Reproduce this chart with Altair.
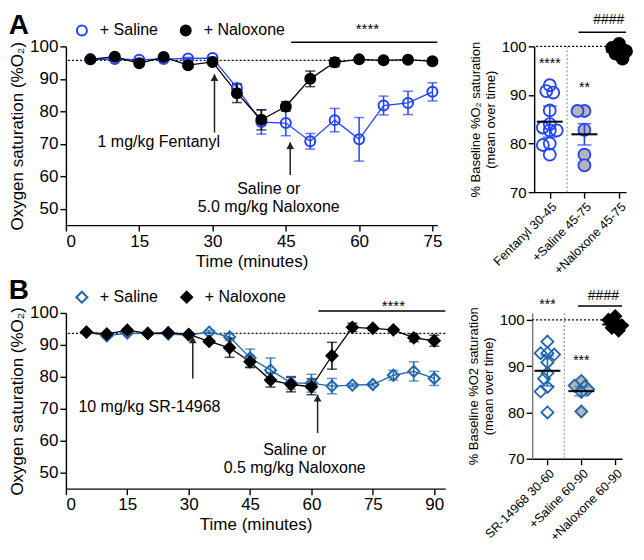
import altair as alt
import pandas as pd

FONT = "Liberation Sans"
BLUE_A = "#2342ff"
BLUE_B = "#1f66ae"
GREY_FILL = "#b5b5b5"
SERIES = ["+ Saline", "+ Naloxone"]

# ---------------- Panel A (time course) ----------------
A_TIME = [5, 10, 15, 20, 25, 30, 35, 40, 45, 50, 55, 60, 65, 70, 75]
A_SAL = [96.0, 96.1, 95.9, 96.1, 96.3, 96.4, 87.2, 76.7, 76.4, 70.8, 77.3, 71.4, 81.8, 82.6, 86.0]
A_SAL_SEM = [0.3, 0.3, 0.3, 0.3, 0.3, 0.3, 1.2, 3.7, 3.9, 2.4, 3.6, 6.7, 2.9, 3.6, 2.8]
A_NAL = [96.0, 96.8, 94.8, 96.7, 94.2, 95.2, 85.6, 77.4, 81.5, 90.0, 95.1, 96.0, 95.7, 95.9, 95.4]
A_NAL_SEM = [0.3, 0.3, 0.3, 0.3, 0.3, 0.3, 2.9, 3.1, 1.5, 2.4, 1.4, 0.3, 0.3, 0.3, 0.3]
A_BASELINE = 95.7
A_XTICKS = [0, 15, 30, 45, 60, 75]
A_ARROWS = [(30.4, 91.4, 73.5), (45.9, 70.5, 60.4)]
A_NOTES = [(19.0, 70.5, "1 mg/kg Fentanyl"), (41.5, 56.2, "Saline or"), (41.5, 50.6, "5.0 mg/kg Naloxone")]
A_SIG = (46.1, 76.0, 101.3, 61.7, 105.4, "****")

# ---------------- Panel B (time course) ----------------
B_TIME = [5, 10, 15, 20, 25, 30, 35, 40, 45, 50, 55, 60, 65, 70, 75, 80, 85, 90]
B_SAL = [94.0, 92.8, 93.7, 93.6, 93.4, 93.1, 94.0, 92.5, 85.9, 82.1, 78.1, 78.0, 77.1, 77.4, 77.6, 80.5, 81.7, 79.5]
B_SAL_SEM = [0.3, 0.3, 0.3, 0.3, 0.3, 0.3, 0.5, 1.0, 2.8, 3.8, 2.0, 2.8, 2.4, 0.5, 0.5, 1.5, 3.0, 2.2]
B_NAL = [94.0, 93.4, 94.6, 93.6, 93.8, 93.3, 91.1, 89.1, 84.7, 79.0, 77.6, 76.9, 86.6, 95.5, 95.2, 94.7, 92.2, 91.3]
B_NAL_SEM = [0.3, 0.3, 0.3, 0.3, 0.3, 0.3, 0.5, 3.0, 1.8, 2.2, 2.3, 2.5, 4.2, 1.3, 0.5, 0.5, 1.2, 1.7]
B_BASELINE = 93.6
B_XTICKS = [0, 15, 30, 45, 60, 75, 90]
B_ARROWS = [(31.0, 92.6, 79.5), (61.5, 74.4, 62.4)]
B_NOTES = [(20.4, 70.6, "10 mg/kg SR-14968"), (55.9, 57.0, "Saline or"), (55.9, 51.5, "0.5 mg/kg Naloxone")]
B_SIG = (61.7, 92.7, 100.6, 80.0, 102.3, "****")

# ---------------- Panel A (summary) ----------------
RA_LABELS = ["Fentanyl 30-45", "+Saline 45-75", "+Naloxone 45-75"]
RA_VALUES = [
    [92.0, 90.8, 90.5, 86.8, 84.0, 83.3, 82.7, 82.7, 80.0, 79.7, 77.7],
    [86.7, 86.7, 82.8, 77.7, 75.5],
    [100.5, 99.7, 99.3, 99.0, 98.5, 97.5],
]
RA_MEANS = [84.5, 81.9, 98.9]
RA_SEMS = [3.2, 2.2, 0.6]
RA_STARS = [(0, 96.4, "****"), (1, 91.4, "**")]
RA_HASH = (0.83, 2.2, 102.9, 1.7, 105.4, "####")

# ---------------- Panel B (summary) ----------------
RB_LABELS = ["SR-14968 30-60", "+Saline 60-90", "+Naloxone 60-90"]
RB_VALUES = [
    [95.3, 92.8, 92.8, 92.5, 90.8, 88.5, 87.3, 85.5, 84.5, 80.0],
    [86.8, 85.8, 85.6, 85.0, 84.4, 80.2],
    [100.8, 100.0, 99.5, 98.8, 98.3, 97.7],
]
RB_MEANS = [89.0, 84.6, 99.0]
RB_SEMS = [3.3, 1.0, 0.6]
RB_STARS = [(0, 103.2, "***"), (1, 91.1, "***")]
RB_HASH = (0.9, 2.2, 103.0, 1.65, 105.2, "####")


def time_panel(time, sal, sal_sem, nal, nal_sem, baseline, sal_color, shape, pt_size,
               xmax, xticks, width, height, arrows, notes, sig, letter, toff):
    rows = []
    for name, vals, sems in ((SERIES[0], sal, sal_sem), (SERIES[1], nal, nal_sem)):
        for t, v, s in zip(time, vals, sems):
            rows.append({"series": name, "t": t, "v": v, "lo": v - s, "hi": v + s})
    df = pd.DataFrame(rows)
    xs = alt.Scale(domain=[0, xmax], nice=False, zero=False)
    ys = alt.Scale(domain=[45, 100], nice=False, zero=False)
    xax = alt.Axis(values=xticks, title="Time (minutes)", labelFontSize=17, titleFontSize=17,
                   tickSize=6, titlePadding=4, labelPadding=2)
    yax = alt.Axis(values=[50, 60, 70, 80, 90, 100], title="Oxygen saturation (%O₂)",
                   labelFontSize=17, titleFontSize=17, tickSize=6, titlePadding=3, labelPadding=2)

    def X(f):
        return alt.X(f, type="quantitative", scale=xs, axis=xax)

    def Y(f):
        return alt.Y(f, type="quantitative", scale=ys, axis=yax)

    # lines / error bars: colour scale with a data-derived (alphabetical) domain
    color = alt.Color("series:N", scale=alt.Scale(range=["black", sal_color]), legend=None)
    # points carry the legend
    leg = alt.Legend(title=None, orient="none", legendX=8, legendY=-24, direction="horizontal",
                     labelFontSize=16, labelFont=FONT, labelColor="black", symbolSize=pt_size,
                     symbolStrokeWidth=2, columnPadding=18, labelOffset=10, padding=0)
    sscale = alt.Scale(domain=SERIES, range=[sal_color, "black"])

    base = alt.Chart(df)
    bl = alt.Chart(pd.DataFrame({"y": [baseline]})).mark_rule(
        strokeDash=[2, 2], color="black", strokeWidth=1.3).encode(y=Y("y"))
    lines = base.mark_line(strokeWidth=1.3).encode(x=X("t"), y=Y("v"), color=color)
    errs = base.mark_errorbar(ticks=True, size=10, thickness=1.5).encode(
        x=X("t"), y=Y("lo"), y2="hi", color=color)
    pts = base.mark_point(size=pt_size, strokeWidth=2, opacity=1).encode(
        x=X("t"), y=Y("v"),
        stroke=alt.Stroke("series:N", scale=sscale, legend=leg),
        fill=alt.Fill("series:N", scale=alt.Scale(domain=SERIES, range=["transparent", "black"]), legend=leg),
        shape=alt.Shape("series:N", scale=alt.Scale(domain=SERIES, range=[shape, shape]), legend=leg),
    )
    adf = pd.DataFrame(arrows, columns=["x", "tip", "tail"])
    arule = alt.Chart(adf).mark_rule(color="#222", strokeWidth=1.5).encode(x=X("x"), y=Y("tip"), y2="tail")
    ahead = alt.Chart(adf).mark_point(shape="triangle-up", filled=True, size=60, color="#222",
                                      opacity=1, yOffset=3.4).encode(x=X("x"), y=Y("tip"))
    ndf = pd.DataFrame(notes, columns=["x", "y", "txt"])
    ntext = alt.Chart(ndf).mark_text(fontSize=16, font=FONT, color="black").encode(
        x=X("x"), y=Y("y"), text="txt:N")
    sdf = pd.DataFrame([sig], columns=["x1", "x2", "y", "tx", "ty", "txt"])
    srule = alt.Chart(sdf).mark_rule(color="black", strokeWidth=1.5).encode(x=X("x1"), x2="x2", y=Y("y"))
    stext = alt.Chart(sdf).mark_text(fontSize=15, font=FONT, color="black").encode(
        x=X("tx"), y=Y("ty"), text="txt:N")
    return alt.layer(bl, lines, errs, pts, arule, ahead, ntext, srule, stext).properties(
        width=width, height=height,
        title=alt.TitleParams(letter, anchor="start", fontSize=28, fontWeight="bold", font=FONT,
                              offset=toff, color="black"),
    )


def swarm(vals, px_per_unit=5.0, px_per_x=35.0, step=3.5, min_d=6.5):
    placed = []
    offs = [0.0] * len(vals)
    order = sorted(range(len(vals)), key=lambda k: -vals[k])
    for k in order:
        yk = vals[k] * px_per_unit
        xk = 0.0
        for cand in (0, -1, 1, -2, 2):
            xk = cand * step
            if all(((xk - xp) ** 2 + (yk - yp) ** 2) ** 0.5 >= min_d for xp, yp in placed):
                break
        placed.append((xk, yk))
        offs[k] = xk / px_per_x
    return offs


def dot_panel(labels, values, means, sems, blue, fills, shape, size, ytitle, ydomain, height,
              stars, hsig, width, axis_color):
    rows = []
    for i, vals in enumerate(values):
        for v, o in zip(vals, swarm(vals)):
            rows.append({"g": labels[i], "xj": i + o, "v": v})
    df = pd.DataFrame(rows)
    mdf = pd.DataFrame({"g": labels, "i": list(range(len(labels))), "m": means,
                        "lo": [m - s for m, s in zip(means, sems)],
                        "hi": [m + s for m, s in zip(means, sems)]})
    xs = alt.Scale(domain=[-0.45, 2.2], nice=False, zero=False)
    ys = alt.Scale(domain=ydomain, nice=False, zero=False)
    arr = "[" + ",".join("'" + s + "'" for s in labels) + "]"
    xax = alt.Axis(values=[0, 1, 2], labelExpr=arr + "[datum.value]", labelAngle=-45, labelFontSize=12.5,
                   title=None, tickSize=6, labelPadding=2, labelOverlap=False, labelBound=False)
    yax = alt.Axis(values=[70, 80, 90, 100], title=ytitle, titleFontSize=13, labelFontSize=15,
                   tickSize=6, titlePadding=4, labelPadding=2, domainColor=axis_color)

    def X(f):
        return alt.X(f, type="quantitative", scale=xs, axis=xax)

    def Y(f):
        return alt.Y(f, type="quantitative", scale=ys, axis=yax)

    strokes = [blue, blue, "black"]
    h100 = alt.Chart(pd.DataFrame({"y": [100]})).mark_rule(
        strokeDash=[2, 2], color="black", strokeWidth=1.2).encode(y=Y("y"))
    sep = alt.Chart(pd.DataFrame({"x": [0.5]})).mark_rule(
        strokeDash=[2, 2], color="#999999", strokeWidth=1.2).encode(x=X("x"))
    pts = alt.Chart(df).mark_point(shape=shape, size=size, strokeWidth=1.8, opacity=1).encode(
        x=X("xj"), y=Y("v"),
        stroke=alt.Stroke("g:N", scale=alt.Scale(domain=labels, range=strokes), legend=None),
        fill=alt.Fill("g:N", scale=alt.Scale(domain=labels, range=fills), legend=None),
    )
    errs = alt.Chart(mdf).mark_errorbar(ticks=True, size=14, thickness=1.6).encode(
        x=X("i"), y=Y("lo"), y2="hi",
        color=alt.Color("g:N", scale=alt.Scale(domain=labels, range=strokes), legend=None))
    mtick = alt.Chart(mdf).mark_tick(orient="horizontal", size=26, thickness=2, color="black",
                                     opacity=1).encode(x=X("i"), y=Y("m"))
    stdf = pd.DataFrame(stars, columns=["x", "y", "txt"])
    stext = alt.Chart(stdf).mark_text(fontSize=14, font=FONT, color="black").encode(
        x=X("x"), y=Y("y"), text="txt:N")
    hdf = pd.DataFrame([hsig], columns=["x1", "x2", "y", "tx", "ty", "txt"])
    hrule = alt.Chart(hdf).mark_rule(color="black", strokeWidth=1.5).encode(x=X("x1"), x2="x2", y=Y("y"))
    htext = alt.Chart(hdf).mark_text(fontSize=14, font=FONT, color="black").encode(
        x=X("tx"), y=Y("ty"), text="txt:N")
    return alt.layer(h100, sep, pts, errs, mtick, stext, hrule, htext).properties(
        width=width, height=height)


a_left = time_panel(A_TIME, A_SAL, A_SAL_SEM, A_NAL, A_NAL_SEM, A_BASELINE, BLUE_A, "circle", 100,
                    76.0, A_XTICKS, 372, 179, A_ARROWS, A_NOTES, A_SIG, "A", -18)
b_left = time_panel(B_TIME, B_SAL, B_SAL_SEM, B_NAL, B_NAL_SEM, B_BASELINE, BLUE_B, "diamond", 121,
                    92.7, B_XTICKS, 380, 176, B_ARROWS, B_NOTES, B_SIG, "B", -16)
a_right = dot_panel(RA_LABELS, RA_VALUES, RA_MEANS, RA_SEMS, BLUE_A, ["transparent", GREY_FILL, "black"],
                    "circle", 144, ["% Baseline %O₂ saturation", "(mean over time)"], [70, 100], 146,
                    RA_STARS, RA_HASH, 92, "black")
b_right = dot_panel(RB_LABELS, RB_VALUES, RB_MEANS, RB_SEMS, BLUE_B, ["transparent", GREY_FILL, "black"],
                    "diamond", 144, ["% Baseline %O2 saturation", "(mean over time)"], [70, 101.5], 146,
                    RB_STARS, RB_HASH, 90, "#777777")

ind = dict(color="independent", stroke="independent", fill="independent", shape="independent")
row_a = alt.hconcat(a_left, a_right, spacing=26).resolve_scale(**ind)
row_b = alt.hconcat(b_left, b_right, spacing=20).resolve_scale(**ind)

chart = alt.vconcat(row_a, row_b, spacing=0).resolve_scale(**ind).properties(
    padding={"top": 3, "left": 0, "right": 0, "bottom": 0}
).configure_view(
    stroke=None
).configure_axis(
    grid=False, domainColor="black", tickColor="black", labelColor="black", titleColor="black",
    labelFont=FONT, titleFont=FONT, titleFontWeight="normal", domainWidth=1.4, tickWidth=1.4,
).configure_text(font=FONT)

chart.save("out.html", embed_options={"renderer": "svg", "actions": False})
